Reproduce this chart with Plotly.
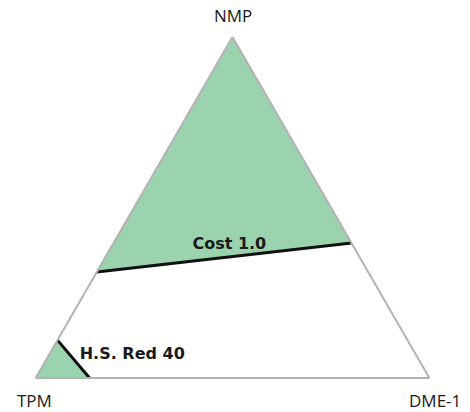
import plotly.graph_objects as go

# Corner components of the ternary diagram
apex_labels = ["NMP", "TPM", "DME-1"]

# Cost 1.0 constraint line: (NMP, TPM, DME-1) fractions at each end
cost_a = [0.311, 0.396]
cost_b = [0.689, 0.0]
cost_c = [0.0, 0.604]

# H.S. Red 40 constraint line near the TPM corner
hs_a = [0.111, 0.0]
hs_b = [0.889, 0.863]
hs_c = [0.0, 0.137]

line_labels = ["Cost 1.0", "H.S. Red 40"]

GREEN = "#9BD3AF"
EDGE = "#B3B3B3"
TEXT = "#1a1a1a"
LABEL_FONT = "DejaVu Sans"
CORNER_FONT = "Open Sans"

fig = go.Figure()

# Feasible region above the cost line (toward NMP)
fig.add_trace(go.Scatterternary(
    a=[1.0, cost_a[0], cost_a[1], 1.0],
    b=[0.0, cost_b[0], cost_b[1], 0.0],
    c=[0.0, cost_c[0], cost_c[1], 0.0],
    mode="lines", fill="toself", fillcolor=GREEN,
    line=dict(width=0), hoverinfo="skip", showlegend=False,
))

# Region in the TPM corner bounded by H.S. Red 40
fig.add_trace(go.Scatterternary(
    a=[0.0, hs_a[0], hs_a[1], 0.0],
    b=[1.0, hs_b[0], hs_b[1], 1.0],
    c=[0.0, hs_c[0], hs_c[1], 0.0],
    mode="lines", fill="toself", fillcolor=GREEN,
    line=dict(width=0), hoverinfo="skip", showlegend=False,
))

# Constraint lines
for a, b, c in [(cost_a, cost_b, cost_c), (hs_a, hs_b, hs_c)]:
    fig.add_trace(go.Scatterternary(
        a=a, b=b, c=c, mode="lines",
        line=dict(color="#111111", width=3),
        hoverinfo="skip", showlegend=False,
    ))

# Line labels
fig.add_trace(go.Scatterternary(
    a=[0.390, 0.067], b=[0.313, 0.721], c=[0.297, 0.212],
    mode="text", text=[f"<b>{t}</b>" for t in line_labels],
    textposition="middle center",
    textfont=dict(family=LABEL_FONT, size=16, color=TEXT),
    hoverinfo="skip", showlegend=False,
))

axis_common = dict(
    showticklabels=False, showgrid=False, ticks="",
    linecolor=EDGE, linewidth=2, min=0, title=dict(text=""),
)

# Corner names placed just outside each vertex
corner_pos = [(0.5, 1.0616), (-0.001, -0.066), (1.0127, -0.066)]
annotations = [
    dict(text=name, x=x, y=y, xref="paper", yref="paper",
         xanchor="center", yanchor="middle", showarrow=False,
         borderpad=0,
         font=dict(family=CORNER_FONT, size=17, color=TEXT))
    for name, (x, y) in zip(apex_labels, corner_pos)
]

fig.update_layout(
    width=470, height=412,
    margin=dict(l=35, r=40, t=37, b=34),
    paper_bgcolor="white",
    ternary=dict(
        sum=1,
        bgcolor="white",
        aaxis=axis_common,
        baxis=axis_common,
        caxis=axis_common,
    ),
    annotations=annotations,
)

fig.write_html("out.html")
